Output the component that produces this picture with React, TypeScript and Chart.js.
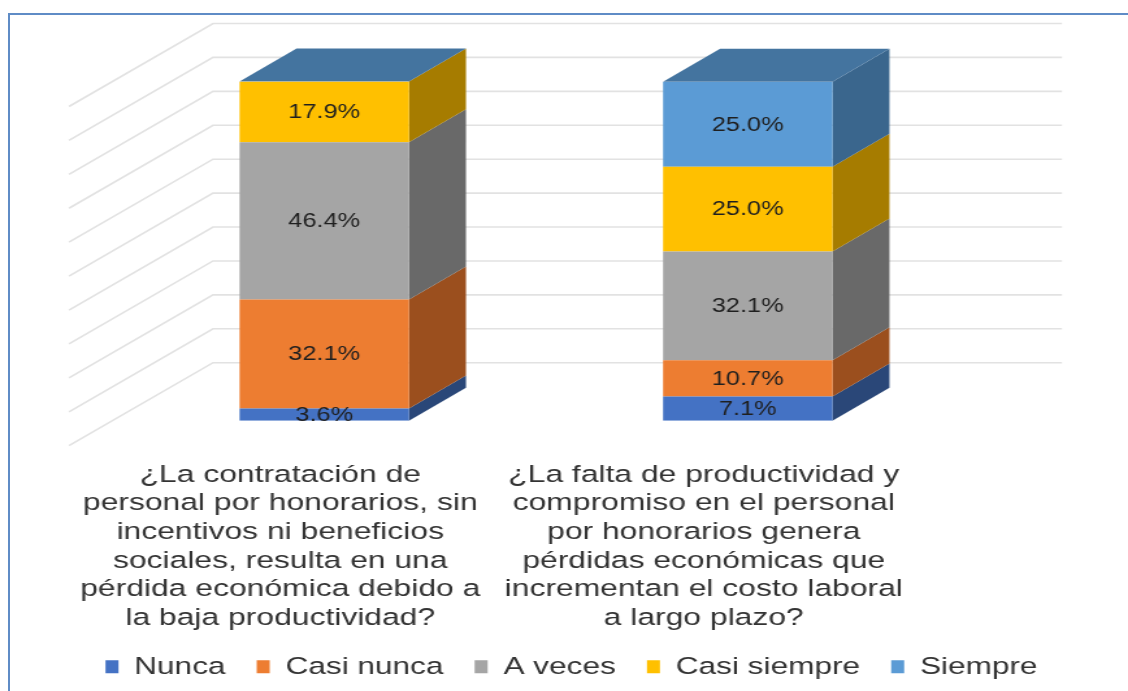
import React, { useEffect, useRef } from "react";
import { Chart, registerables } from "chart.js";

Chart.register(...registerables);

const categories: string[][] = [
  ["¿La contratación de", "personal por honorarios, sin", "incentivos ni beneficios", "sociales, resulta en una", "pérdida económica debido a", "la baja productividad?"],
  ["¿La falta de productividad y", "compromiso en el personal", "por honorarios genera", "pérdidas económicas que", "incrementan el costo laboral", "a largo plazo?"],
];
const seriesNames = ["Nunca", "Casi nunca", "A veces", "Casi siempre", "Siempre"];
const nunca = [3.6, 7.1];
const casiNunca = [32.1, 10.7];
const aVeces = [46.4, 32.1];
const casiSiempre = [17.9, 25.0];
const siempre = [0, 25.0];
const frontColors = ["#4472c4", "#ed7d31", "#a5a5a5", "#ffc000", "#5b9bd5"];
const sideColors = ["#2a4778", "#9b4f1e", "#696969", "#a67c00", "#3a668d"];
const topColor = "#44749f";

const W = 868;
const H = 689;
const S = 1128 / W;
const DX = 57 / S;
const DY = 33;

const depthPlugin = {
  id: "depth",
  beforeDatasetsDraw(chart: any) {
    const { ctx, scales } = chart;
    const y = scales.y;
    const x = scales.x;
    ctx.save();
    ctx.strokeStyle = "#e2e2e2";
    ctx.lineWidth = 1.6;
    const wallL = x.left + 100.5 / S;
    const wallR = x.right + 102.5 / S;
    y.ticks.forEach((t: any) => {
      const py = y.getPixelForValue(t.value) - 58;
      ctx.beginPath();
      ctx.moveTo(wallL - 144 / S, py + 83);
      ctx.lineTo(wallL, py);
      ctx.lineTo(wallR, py);
      ctx.stroke();
    });
    chart.data.datasets.forEach((_: any, di: number) => {
      const meta = chart.getDatasetMeta(di);
      meta.data.forEach((el: any) => {
        const r = el.x + el.width / 2;
        ctx.fillStyle = sideColors[di];
        ctx.beginPath();
        ctx.moveTo(r, el.y);
        ctx.lineTo(r + DX, el.y - DY);
        ctx.lineTo(r + DX, el.base - DY);
        ctx.lineTo(r, el.base);
        ctx.closePath();
        ctx.fill();
      });
    });
    const last = chart.getDatasetMeta(chart.data.datasets.length - 1);
    last.data.forEach((el: any) => {
      const l = el.x - el.width / 2;
      const r = el.x + el.width / 2;
      ctx.fillStyle = topColor;
      ctx.beginPath();
      ctx.moveTo(l, el.y);
      ctx.lineTo(l + DX, el.y - DY);
      ctx.lineTo(r + DX, el.y - DY);
      ctx.lineTo(r, el.y);
      ctx.closePath();
      ctx.fill();
    });
    ctx.restore();
  },
  afterDatasetsDraw(chart: any) {
    const { ctx } = chart;
    ctx.save();
    ctx.font = "19.5px 'Liberation Sans'";
    ctx.fillStyle = "#1f1f1f";
    ctx.textAlign = "center";
    ctx.textBaseline = "middle";
    chart.data.datasets.forEach((ds: any, di: number) => {
      chart.getDatasetMeta(di).data.forEach((el: any, i: number) => {
        const v = ds.data[i];
        if (!v) return;
        ctx.fillText(v.toFixed(1) + "%", el.x, (el.y + el.base) / 2 + 1);
      });
    });
    ctx.restore();
  },
};

export default function App() {
  const ref = useRef<HTMLCanvasElement>(null);
  useEffect(() => {
    const values = [nunca, casiNunca, aVeces, casiSiempre, siempre];
    const chart = new Chart(ref.current as HTMLCanvasElement, {
      type: "bar",
      data: {
        labels: categories as any,
        datasets: seriesNames.map((name, i) => ({
          label: name,
          data: values[i],
          backgroundColor: frontColors[i],
          borderWidth: 0,
          barPercentage: 0.4,
          categoryPercentage: 1,
        })),
      },
      options: {
        responsive: false,
        animation: false,
        devicePixelRatio: 1,
        layout: { padding: { top: 81.5, left: 15 / S, right: 0, bottom: 0 } },
        plugins: {
          tooltip: { enabled: false },
          legend: {
            position: "bottom",
            labels: {
              boxWidth: 13 / S,
              boxHeight: 13,
              padding: 24,
              color: "#333333",
              font: { family: "'Liberation Sans'", size: 24.3 },
            },
          },
        },
        scales: {
          x: {
            stacked: true,
            grid: { display: false, drawTicks: false },
            border: { display: false },
            afterFit(scale: any) {
              scale.height = 210;
            },
            ticks: {
              autoSkip: false,
              minRotation: 0,
              maxRotation: 0,
              padding: 40,
              labelOffset: -44 / S,
              color: "#333333",
              font: { family: "'Liberation Sans'", size: 24.5, lineHeight: 1.167 },
            },
          },
          y: {
            stacked: true,
            min: 0,
            max: 100,
            grid: { display: false },
            border: { display: false },
            ticks: { display: false, stepSize: 10 },
            afterFit(scale: any) {
              scale.width = 97.5 / S;
            },
          },
          yR: {
            position: "right",
            min: 0,
            max: 100,
            grid: { display: false },
            border: { display: false },
            ticks: { display: false },
            afterFit(scale: any) {
              scale.width = 168.5 / S;
            },
          },
        },
      } as any,
      plugins: [depthPlugin],
    });
    return () => chart.destroy();
  }, []);
  return (
    <div style={{ position: "fixed", left: 0, top: 0, width: 1128, height: 691, overflow: "hidden", background: "#fff" }}>
      <div
        style={{
          position: "absolute",
          left: 8,
          top: 13,
          width: 1200,
          height: 800,
          borderLeft: "2px solid #5f8cc6",
          borderTop: "2px solid #5f8cc6",
        }}
      />
      <canvas
        ref={ref}
        width={W}
        height={H}
        style={{
          position: "absolute",
          left: 0,
          top: 0,
          width: W,
          height: H,
          transform: `scaleX(${S})`,
          transformOrigin: "0 0",
          filter: "blur(0.5px)",
        }}
      />
    </div>
  );
}
